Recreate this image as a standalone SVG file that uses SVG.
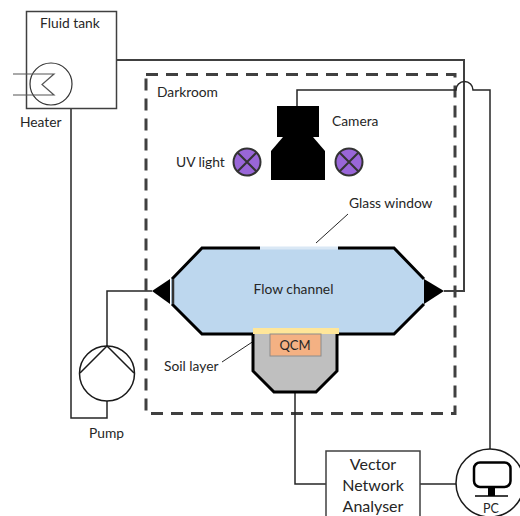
<svg xmlns="http://www.w3.org/2000/svg" width="520" height="516" viewBox="0 0 520 516">
<style>
text{font-family:Lato,"Liberation Sans",sans-serif;font-size:13.800px;fill:#262626}
.c{text-anchor:middle}
.big{font-size:16px}
.wire{fill:none;stroke:#262626;stroke-width:1.500}
.thick{fill:none;stroke:#404040;stroke-width:2}
.box{fill:#fff;stroke:#404040;stroke-width:1.500}
.lamp{fill:#9966d8;stroke:#333;stroke-width:2}
.lx{stroke:#333;stroke-width:2}
</style>
<g id="darkroom"><rect x="146" y="74.500" width="309" height="339" fill="none" stroke="#404040" stroke-width="3" stroke-dasharray="12 8"/><text x="157" y="97">Darkroom</text></g>
<g id="connectors">
<path class="thick" d="M116 60H464V291H444"/>
<path class="wire" d="M297 106V90H456A8.500 8.500 0 0 1 473 90H490V449"/>
<path class="wire" d="M152 291H107V346"/>
<path class="wire" d="M107 401V418H71V108"/>
<path class="wire" d="M295 356V484H326"/>
<path class="wire" d="M420 484H456"/>
<path d="M269 331L222 362" fill="none" stroke="#262626" stroke-width="1"/>
</g>
<g id="fluid-tank"><rect class="box" x="26.500" y="11.500" width="90" height="97"/><text x="40" y="28">Fluid tank</text></g>
<g id="heater">
<circle cx="51" cy="84" r="21" fill="none" stroke="#333" stroke-width="1.200"/>
<path d="M13 74H54L42 84.500L54 95H13" fill="none" stroke="#555" stroke-width="1.200"/>
<text x="20" y="127">Heater</text>
</g>
<g id="camera">
<rect x="277" y="106" width="42" height="31" fill="#000"/>
<path d="M283 137L271 151V180H325V151L313 137Z" fill="#000"/>
<text x="332" y="126">Camera</text>
</g>
<g id="uv-light-1">
<circle class="lamp" cx="247" cy="162" r="13.500"/>
<path class="lx" d="M237.500 152.500L256.500 171.500M256.500 152.500L237.500 171.500"/>
<text x="176" y="167">UV light</text>
</g>
<g id="uv-light-2">
<circle class="lamp" cx="349" cy="162" r="13.500"/>
<path class="lx" d="M339.500 152.500L358.500 171.500M358.500 152.500L339.500 171.500"/>
</g>
<g id="flow-channel">
<path d="M202 248H394L424 279V304L394 334H202L171 304V279Z" fill="#bdd7ee"/>
<path d="M260 248H202L172 279M172 304L202 334H394L424 304M424 279L394 248H338" fill="none" stroke="#000" stroke-width="3"/>
<path d="M260 248H338" stroke="#dae8f5" stroke-width="3" fill="none"/>
<path d="M173 279V304" stroke="#333" stroke-width="2.500"/>
<path d="M152 291L170 279V304Z" fill="#000"/>
<path d="M444 291L424 279V304Z" fill="#000"/>
<text class="c" x="293.500" y="294">Flow channel</text>
</g>
<g id="glass-window"><text x="349" y="208">Glass window</text><path d="M316 243L348 214" fill="none" stroke="#262626" stroke-width="1"/></g>
<g id="qcm-holder">
<path d="M253 334V371L274 392H316L337 371V334" fill="#bfbfbf" stroke="#000" stroke-width="3"/>
</g>
<g id="soil-layer"><rect x="253" y="328" width="86" height="6" fill="#ffe699"/><text x="164" y="371">Soil layer</text></g>
<g id="qcm"><rect x="270" y="334" width="51" height="22" fill="#f4b183" stroke="#8c8c8c" stroke-width="1"/><text class="c" x="295" y="350" style="font-size:13px">QCM</text></g>
<g id="pump">
<circle cx="107" cy="373.500" r="27.500" fill="#fff" stroke="#1a1a1a" stroke-width="1.500"/>
<path d="M80 373L107 346L134 373" fill="none" stroke="#1a1a1a" stroke-width="1.500"/>
<text x="89" y="438">Pump</text>
</g>
<g id="vna"><rect class="box" x="326" y="451" width="94" height="70"/>
<text class="c big" x="373" y="470">Vector</text><text class="c big" x="373" y="491">Network</text><text class="c big" x="373" y="512">Analyser</text></g>
<g id="pc">
<circle cx="490" cy="483" r="34" fill="#fff" stroke="#1a1a1a" stroke-width="1.500"/>
<rect x="474" y="462.500" width="36.500" height="24.500" rx="6" fill="none" stroke="#000" stroke-width="2.500"/>
<rect x="488" y="487" width="7" height="9" fill="#000"/>
<path d="M475 496H508" stroke="#000" stroke-width="1.500"/>
<text class="c" x="491" y="513" style="font-size:12.500px">PC</text>
</g>
</svg>
